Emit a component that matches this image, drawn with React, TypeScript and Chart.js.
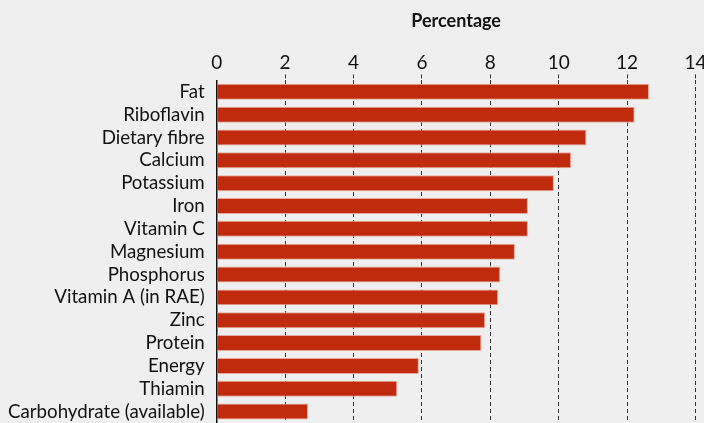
import React, { useEffect, useRef } from "react";
import { Chart, registerables } from "chart.js";

Chart.register(...registerables);

const categories = [
  "Fat",
  "Riboflavin",
  "Dietary fibre",
  "Calcium",
  "Potassium",
  "Iron",
  "Vitamin C",
  "Magnesium",
  "Phosphorus",
  "Vitamin A (in RAE)",
  "Zinc",
  "Protein",
  "Energy",
  "Thiamin",
  "Carbohydrate (available)",
];

const percentages = [12.64, 12.22, 10.81, 10.36, 9.86, 9.1, 9.1, 8.72, 8.29, 8.23, 7.85, 7.74, 5.91, 5.28, 2.67];

const axisTitle = "Percentage";
const xMin = 0;
const xMax = 14;
const xStep = 2;

export default function App() {
  const ref = useRef<HTMLCanvasElement>(null);

  useEffect(() => {
    document.body.style.margin = "0";
    document.body.style.background = "#efefef";
    document.documentElement.style.overflow = "hidden";
    const font = "Lato, 'Noto Sans', sans-serif";
    const chart = new Chart(ref.current!, {
      type: "bar",
      data: {
        labels: categories,
        datasets: [
          {
            data: percentages,
            backgroundColor: "#c12b0d",
            borderColor: "#e6a898",
            borderWidth: 1,
            borderSkipped: "left",
            barPercentage: 0.7,
            categoryPercentage: 1,
          },
        ],
      },
      options: {
        animation: false,
        responsive: false,
        indexAxis: "y",
        layout: { padding: { left: 4, right: 8.5, top: 10, bottom: 0 } },
        plugins: { legend: { display: false }, tooltip: { enabled: false } },
        scales: {
          x: {
            position: "top",
            min: xMin,
            max: xMax,
            afterFit(scale: any) {
              scale.paddingLeft = 0;
              scale.paddingRight = 0;
            },
            ticks: { stepSize: xStep, color: "#111", font: { family: font, size: 19 }, padding: 0 },
            title: {
              display: true,
              text: axisTitle,
              color: "#111",
              font: { family: font, size: 18, weight: "bold" },
              padding: { top: 0, bottom: 20 },
            },
            border: { display: false, dash: [4, 3] },
            grid: {
              color: (ctx: any) => (ctx.tick && ctx.tick.value === 0 ? "rgba(0,0,0,0)" : "#333"),
              lineWidth: 1,
              tickLength: 6,
              tickBorderDash: [4, 3],
            },
          },
          y: {
            afterFit(scale: any) {
              scale.paddingTop = 0;
              scale.paddingBottom = 0;
            },
            ticks: { color: "#111", font: { family: font, size: 18.7, lineHeight: 1 }, padding: 4, autoSkip: false },
            grid: { display: false },
            border: { display: true, color: "#111", width: 1.5 },
          },
        },
      },
    } as any);
    return () => chart.destroy();
  }, []);

  return (
    <div style={{ width: 704, height: 423, background: "#efefef" }}>
      <canvas ref={ref} width={704} height={423} style={{ display: "block" }} />
    </div>
  );
}
